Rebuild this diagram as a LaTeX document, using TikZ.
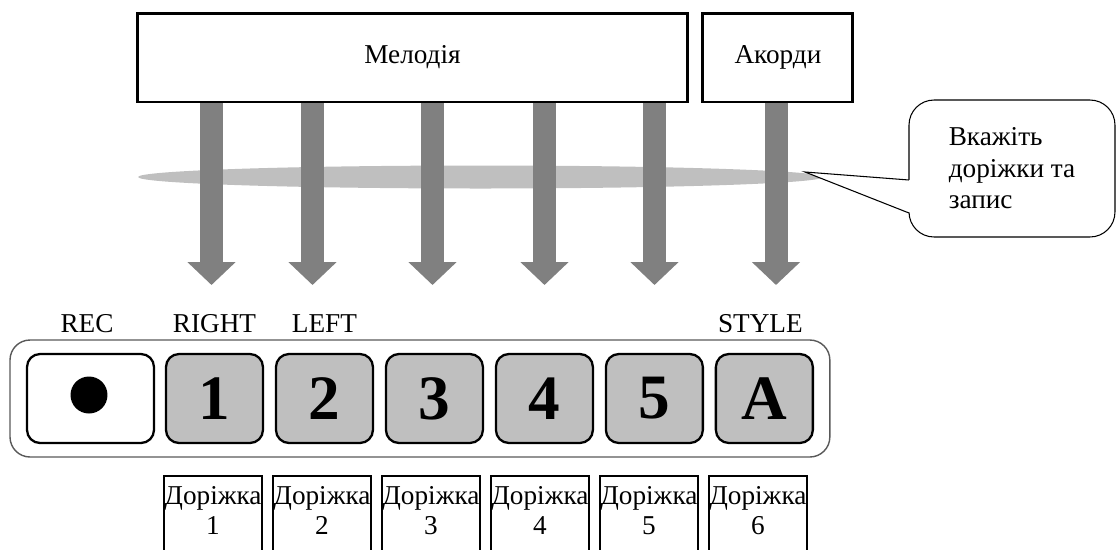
\documentclass[tikz,border=0pt]{standalone}
\usepackage{fontspec}
\setmainfont{Liberation Serif}
\usetikzlibrary{arrows.meta, positioning, fit, calc}
\definecolor{keygray}{gray}{0.75}
\definecolor{arrowgray}{gray}{0.5}
\definecolor{panelgray}{gray}{0.35}
\tikzstyle{topbox} = [draw, line width=1.7pt, fill=white, outer sep=0pt, minimum height=1.78cm, font=\fontsize{15.5}{18}\selectfont]
\tikzstyle{key} = [draw, line width=1.3pt, rounded corners=0.26cm, fill=keygray, outer sep=0pt, minimum width=1.94cm, minimum height=1.78cm, font=\fontsize{36}{36}\selectfont\bfseries]
\tikzstyle{keylabel} = [anchor=base, font=\fontsize{15.5}{18}\selectfont]
\tikzstyle{track} = [draw, line width=0.8pt, outer sep=0pt, minimum width=1.96cm, align=center, inner xsep=0pt, inner ysep=0.21cm, text depth=0.6cm, font=\fontsize{15.5}{17}\selectfont]
\tikzstyle{bigarrow} = [arrowgray, line width=0.46cm, -{Triangle[width=0.94cm, length=0.46cm]}]

\begin{document}
\begin{tikzpicture}[x=0.02cm, y=-0.02cm]
    \useasboundingbox (0,0) rectangle (1117,549);

    % Band behind the arrows
    \fill[keygray] (480.5,177) ellipse [x radius=6.85cm, y radius=0.23cm];

    % Place the top boxes
    \node [topbox, minimum width=11.02cm] (melody) at (412.5,57.5) {Мелодія};
    \node [topbox, minimum width=3cm, right=0.3cm of melody] (chords) {Акорди};

    % Place the keys
    \node [key, fill=white, minimum width=2.54cm] (rec) at (90.5,398.5) {};
    \node [circle, fill=black, minimum size=0.74cm, inner sep=0pt] (dot) at ([xshift=-0.03cm, yshift=0.07cm]rec.center) {};
    \node [key, right=0.24cm of rec] (key1) {1};
    \node [key, right=0.26cm of key1] (key2) {2};
    \node [key, right=0.26cm of key2] (key3) {3};
    \node [key, right=0.26cm of key3] (key4) {4};
    \node [key, right=0.26cm of key4] (key5) {5};
    \node [key, right=0.26cm of key5] (keyA) {A};
    \node [draw=panelgray, line width=0.8pt, rounded corners=0.4cm, inner xsep=0.34cm, inner ysep=0.28cm, fit=(rec) (keyA)] (panel) {};

    % Key labels
    \node [keylabel] (lrec) at ([xshift=-0.07cm, yshift=0.44cm]rec.north) {REC};
    \node [keylabel] (lright) at ([yshift=0.44cm]key1.north) {RIGHT};
    \node [keylabel] (lleft) at ([yshift=0.44cm]key2.north) {LEFT};
    \node [keylabel] (lstyle) at ([xshift=-0.08cm, yshift=0.44cm]keyA.north) {STYLE};

    % Track boxes
    \node [track, anchor=north] (track1) at (213,476) {Доріжка\\1};
    \node [track, right=0.22cm of track1] (track2) {Доріжка\\2};
    \node [track, right=0.22cm of track2] (track3) {Доріжка\\3};
    \node [track, right=0.22cm of track3] (track4) {Доріжка\\4};
    \node [track, right=0.22cm of track4] (track5) {Доріжка\\5};
    \node [track, right=0.22cm of track5] (track6) {Доріжка\\6};

    % Arrow ends
    \coordinate (t1) at (211.5,285);
    \coordinate (t2) at (312.5,285);
    \coordinate (t3) at (432.5,285);
    \coordinate (t4) at (544.5,285);
    \coordinate (t5) at (654.5,285);
    \coordinate (t6) at (776,285);

    % Connect the boxes
    \draw [bigarrow] ($(melody.south -| t1)+(0,1.5)$) -- (t1);
    \draw [bigarrow] ($(melody.south -| t2)+(0,1.5)$) -- (t2);
    \draw [bigarrow] ($(melody.south -| t3)+(0,1.5)$) -- (t3);
    \draw [bigarrow] ($(melody.south -| t4)+(0,1.5)$) -- (t4);
    \draw [bigarrow] ($(melody.south -| t5)+(0,1.5)$) -- (t5);
    \draw [bigarrow] ($(chords.south -| t6)+(0,1.5)$) -- (t6);

    % Callout
    \node [draw, line width=0.6pt, fill=white, rounded corners=0.5cm, minimum width=4.12cm, minimum height=2.74cm, align=left, font=\fontsize{15.5}{17.9}\selectfont] (note) at (1012,168.5) {Вкажіть\\доріжки та\\запис};
    \coordinate (tip) at (805,172);
    \coordinate (b1) at (909,180);
    \coordinate (b2) at (909,213);
    \fill [white] (tip) -- ($(b1)+(2,0)$) -- ($(b2)+(2,0)$) -- cycle;
    \draw [line width=0.6pt] (b1) -- (tip) -- (b2);
\end{tikzpicture}
\end{document}
